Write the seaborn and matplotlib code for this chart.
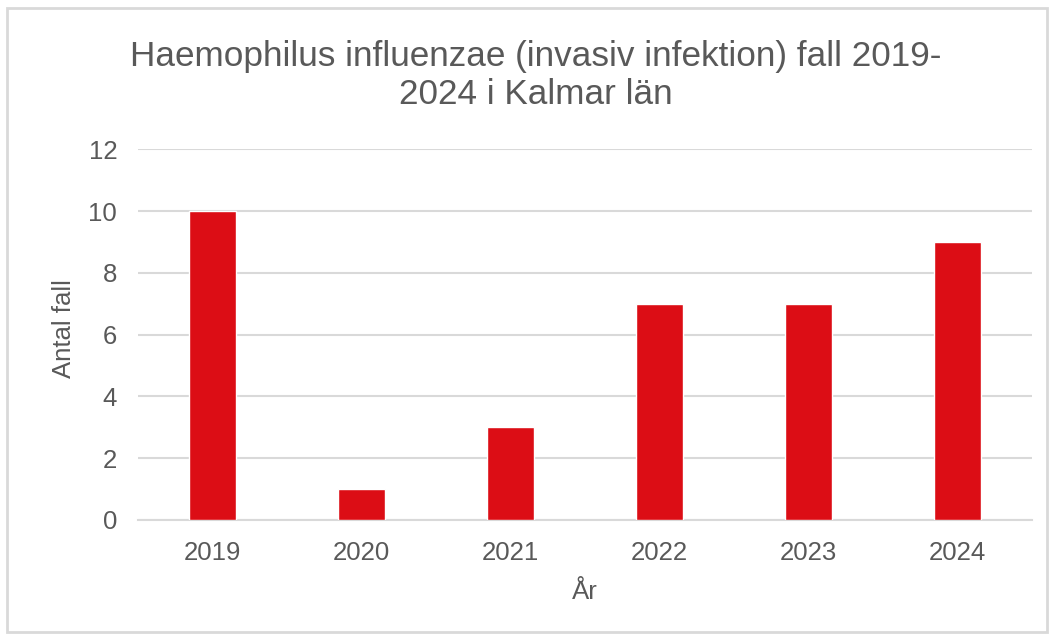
import pandas as pd
import matplotlib
matplotlib.use("Agg")
import matplotlib.pyplot as plt
import seaborn as sns
from matplotlib.patches import Rectangle

# data
years = ["2019", "2020", "2021", "2022", "2023", "2024"]
cases = [10, 1, 3, 7, 7, 9]

title = "Haemophilus influenzae (invasiv infektion) fall 2019-\n2024 i Kalmar län"
xlabel = "År"
ylabel = "Antal fall"

df = pd.DataFrame({"year": years, "cases": cases})

sns.set_theme(style="white")
plt.rcParams["font.family"] = ["Liberation Sans", "DejaVu Sans"]

text_gray = "#595959"
grid_gray = "#D9D9D9"
bar_red = "#DC0D15"

fig = plt.figure(figsize=(10.54, 6.38), dpi=100)
ax = fig.add_axes([0.131, 0.185, 0.848, 0.581])

sns.barplot(data=df, x="year", y="cases", color=bar_red, width=0.315,
            saturation=1, ax=ax, zorder=3)

ax.set_ylim(0, 12)
ax.set_xlim(-0.5, len(years) - 0.5)
ax.set_yticks(range(0, 13, 2))
ax.yaxis.grid(True, color=grid_gray, linewidth=1.5, zorder=0)
ax.xaxis.grid(False)
for side in ["top", "right", "left"]:
    ax.spines[side].set_visible(False)
ax.spines["bottom"].set_color(grid_gray)
ax.spines["bottom"].set_linewidth(1.5)
ax.tick_params(axis="both", length=0, labelsize=18.5, colors=text_gray)
ax.tick_params(axis="x", pad=15)
ax.tick_params(axis="y", pad=15)

ax.set_xlabel(xlabel, fontsize=18.5, color=text_gray, labelpad=11)
ax.set_ylabel(ylabel, fontsize=18.5, color=text_gray)
ax.yaxis.set_label_coords(-0.069, 0.517)

fig.text(0.508, 0.882, title, ha="center", va="center", fontsize=25.3,
         color=text_gray, linespacing=1.2)

# chart border
fig.patches.append(Rectangle((0.007, 0.01), 0.986, 0.977, transform=fig.transFigure,
                             fill=False, edgecolor=grid_gray, linewidth=2))

fig.savefig("out.png", dpi=100)
